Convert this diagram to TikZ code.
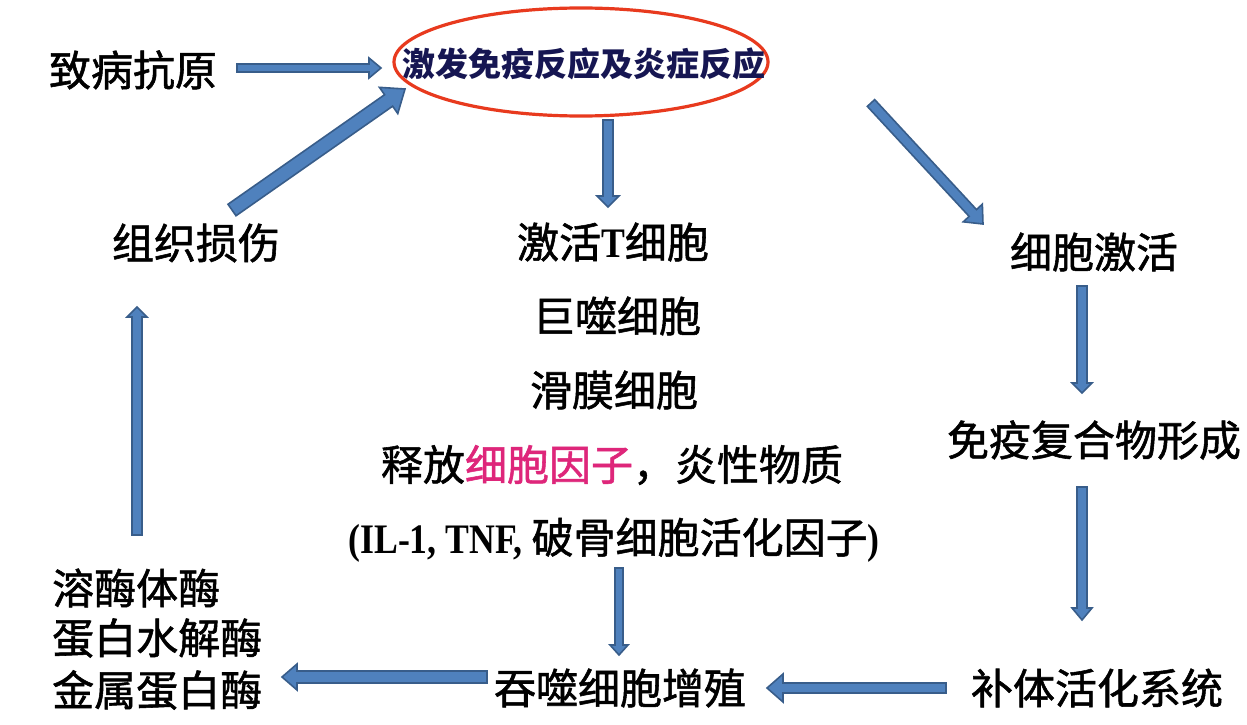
\documentclass[tikz,border=0pt]{standalone}
\usepackage{fontspec}
\newfontfamily\cjk[FakeBold=1.3]{Noto Sans CJK SC}
\newfontfamily\cjkb{Noto Sans CJK SC}
\newfontfamily\lat[FakeStretch=0.85, BoldFont={Liberation Serif Bold}]{Liberation Serif}
\usetikzlibrary{calc}
\definecolor{afill}{RGB}{79,129,189}
\definecolor{aline}{RGB}{56,93,138}
\definecolor{ered}{RGB}{232,58,30}
\definecolor{navy}{RGB}{22,22,82}
\definecolor{pinkc}{RGB}{222,38,122}
% block arrow: from, to, shaft half width, head half width, head length (pt)
\newcommand\barrow[5]{%
  \draw[blockarrow] let \p1=(#1), \p2=(#2), \n1={atan2(\y2-\y1,\x2-\x1)} in
   ($(\p1)+(\n1+90:#3pt)$)
   -- ($(\p2)+(\n1+180:#5pt)+(\n1+90:#3pt)$)
   -- ($(\p2)+(\n1+180:#5pt)+(\n1+90:#4pt)$)
   -- (\p2)
   -- ($(\p2)+(\n1+180:#5pt)+(\n1-90:#4pt)$)
   -- ($(\p2)+(\n1+180:#5pt)+(\n1-90:#3pt)$)
   -- ($(\p1)+(\n1-90:#3pt)$) -- cycle;}
\newcommand\LT[1]{{\lat\bfseries #1}}
\tikzset{
  blockarrow/.style={fill=afill, draw=aline, line width=1.6pt, line join=miter},
  txt/.style={inner sep=0pt, font=\cjk\fontsize{42}{50}\selectfont, text=black},
  lefttxt/.style={txt, anchor=west},
}
\begin{document}
\begin{tikzpicture}[x=1pt,y=-1pt]
\useasboundingbox[fill=white] (0,0) rectangle (1247,725);
% ellipse with title
\draw[ered, line width=3.2pt] (581,62) ellipse [x radius=187, y radius=54];
\node[inner sep=0pt, font=\cjkb\bfseries\fontsize{33}{40}\selectfont, text=navy] (top) at (584,64) {激发免疫反应及炎症反应};
% texts
\node[txt] (n1) at (133,70) {致病抗原};
\node[txt] (dmg) at (196,243) {组织损伤};
\node[txt] (c1) at (613,242) {激活\LT{T}细胞};
\node[txt] (c2) at (617,316) {巨噬细胞};
\node[txt] (c3) at (614,390) {滑膜细胞};
\node[txt] (c4) at (612,465) {释放{\color{pinkc}细胞因子}，炎性物质};
\node[txt] (c5) at (614,540) {\LT{(IL-1, TNF, }破骨细胞活化因子\LT{)}};
\node[txt] (r1) at (1094,252) {细胞激活};
\node[txt] (r2) at (1094,440) {免疫复合物形成};
\node[txt] (r3) at (1097,688) {补体活化系统};
\node[txt] (ph) at (620,688) {吞噬细胞增殖};
\node[lefttxt] (e1) at (52,588) {溶酶体酶};
\node[lefttxt] (e2) at (52,638) {蛋白水解酶};
\node[lefttxt] (e3) at (52,690) {金属蛋白酶};
% arrow end points
\coordinate (a1s) at (237,68);   \coordinate (a1e) at (381,68);
\coordinate (a2s) at (232,210);  \coordinate (a2e) at (405,89);
\coordinate (a3s) at (608,120);  \coordinate (a3e) at (608,207);
\coordinate (a4s) at (871,103);  \coordinate (a4e) at (983,224);
\coordinate (a5s) at (1082,286); \coordinate (a5e) at (1082,393);
\coordinate (a6s) at (1082,487); \coordinate (a6e) at (1082,620);
\coordinate (a7s) at (946,688);  \coordinate (a7e) at (767,688);
\coordinate (a8s) at (619,568);  \coordinate (a8e) at (619,655);
\coordinate (a9s) at (487,677);  \coordinate (a9e) at (282,677);
\coordinate (a10s) at (137,535); \coordinate (a10e) at (137,307);
\barrow{a1s}{a1e}{4}{10}{12}
\barrow{a2s}{a2e}{7}{16}{20}
\barrow{a3s}{a3e}{5}{11}{11}
\barrow{a4s}{a4e}{5}{13}{15}
\barrow{a5s}{a5e}{5}{10}{10}
\barrow{a6s}{a6e}{5}{10}{12}
\barrow{a7s}{a7e}{5}{14}{16}
\barrow{a8s}{a8e}{4}{9}{10}
\barrow{a9s}{a9e}{6}{13}{15}
\barrow{a10s}{a10e}{5}{10}{10}
\end{tikzpicture}
\end{document}
